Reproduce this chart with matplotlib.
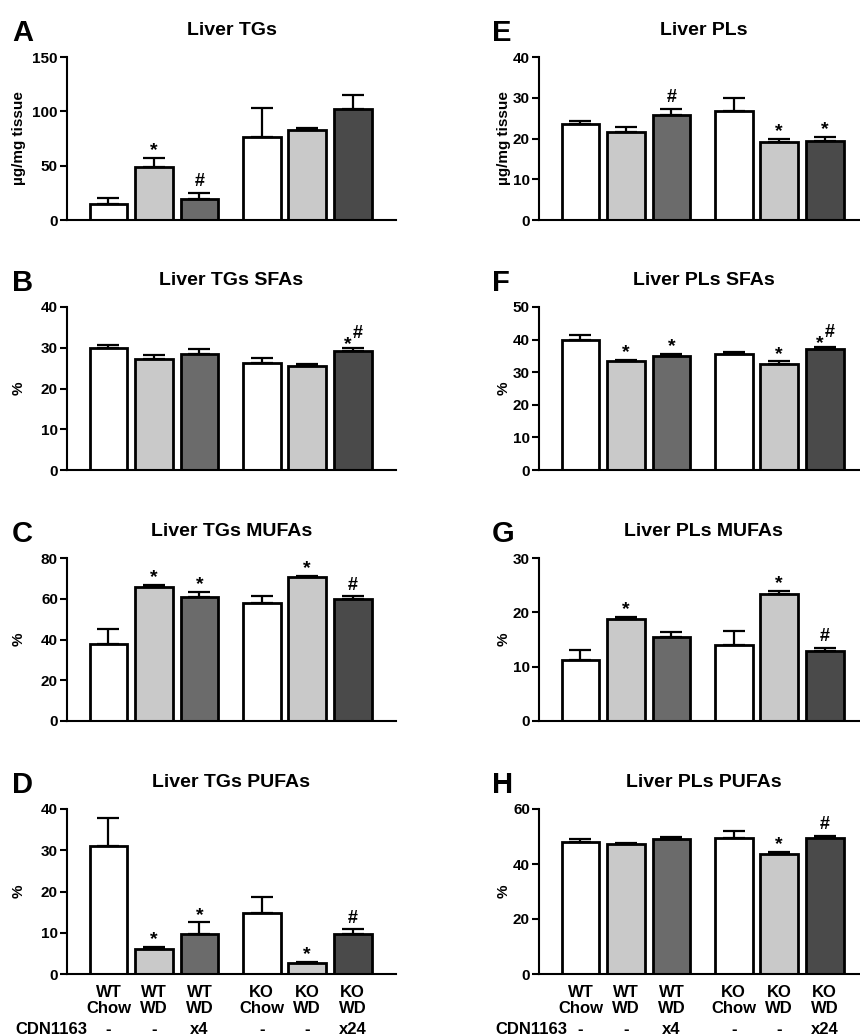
import matplotlib
matplotlib.use("Agg")
import matplotlib.pyplot as plt
import numpy as np

plt.rcParams['font.family'] = ['Liberation Sans', 'DejaVu Sans']
plt.rcParams['font.weight'] = 'bold'

grupos = ['WT\nChow', 'WT\nWD', 'WT\nWD', 'KO\nChow', 'KO\nWD', 'KO\nWD']
cdn1163 = ['-', '-', 'x4', '-', '-', 'x24']
cores = ['#ffffff', '#c9c9c9', '#6b6b6b', '#ffffff', '#c9c9c9', '#4a4a4a']

# painel A
tg_media = [14.7, 49.0, 19.3, 76.5, 82.6, 102.5]
tg_erro = [5.2, 8.5, 5.7, 26.5, 2.2, 12.3]
tg_sig = ['', '*', '#', '', '', '']
# painel B
tg_sfa_media = [30.0, 27.3, 28.5, 26.2, 25.5, 29.1]
tg_sfa_erro = [0.7, 0.9, 1.2, 1.3, 0.5, 0.9]
tg_sfa_sig = ['', '', '', '', '', '*#']
# painel C
tg_mufa_media = [37.6, 65.8, 60.7, 57.8, 70.7, 59.9]
tg_mufa_erro = [7.5, 1.1, 2.6, 3.4, 0.6, 1.3]
tg_mufa_sig = ['', '*', '*', '', '*', '#']
# painel D
tg_pufa_media = [31.1, 6.1, 9.8, 14.8, 2.7, 9.8]
tg_pufa_erro = [6.6, 0.4, 2.7, 3.9, 0.3, 1.0]
tg_pufa_sig = ['', '*', '*', '', '*', '#']
# painel E
pl_media = [23.5, 21.5, 25.8, 26.7, 19.1, 19.3]
pl_erro = [0.9, 1.3, 1.4, 3.2, 0.9, 1.1]
pl_sig = ['', '', '#', '', '*', '*']
# painel F
pl_sfa_media = [40.0, 33.3, 35.0, 35.6, 32.5, 37.0]
pl_sfa_erro = [1.5, 0.5, 0.6, 0.6, 0.8, 0.8]
pl_sfa_sig = ['', '*', '*', '', '*', '*#']
# painel G
pl_mufa_media = [11.2, 18.75, 15.4, 14.0, 23.3, 12.8]
pl_mufa_erro = [1.9, 0.45, 1.0, 2.5, 0.6, 0.6]
pl_mufa_sig = ['', '*', '', '', '*', '#']
# painel H
pl_pufa_media = [48.0, 47.1, 49.1, 49.4, 43.5, 49.3]
pl_pufa_erro = [1.2, 0.6, 0.8, 2.7, 1.0, 0.9]
pl_pufa_sig = ['', '', '', '', '*', '#']

paineis = [
    ('A', 'Liver TGs', 'µg/mg tissue', 150, 50, tg_media, tg_erro, tg_sig),
    ('B', 'Liver TGs SFAs', '%', 40, 10, tg_sfa_media, tg_sfa_erro, tg_sfa_sig),
    ('C', 'Liver TGs MUFAs', '%', 80, 20, tg_mufa_media, tg_mufa_erro, tg_mufa_sig),
    ('D', 'Liver TGs PUFAs', '%', 40, 10, tg_pufa_media, tg_pufa_erro, tg_pufa_sig),
    ('E', 'Liver PLs', 'µg/mg tissue', 40, 10, pl_media, pl_erro, pl_sig),
    ('F', 'Liver PLs SFAs', '%', 50, 10, pl_sfa_media, pl_sfa_erro, pl_sfa_sig),
    ('G', 'Liver PLs MUFAs', '%', 30, 10, pl_mufa_media, pl_mufa_erro, pl_mufa_sig),
    ('H', 'Liver PLs PUFAs', '%', 60, 20, pl_pufa_media, pl_pufa_erro, pl_pufa_sig),
]

W, H = 860, 1036
fig = plt.figure(figsize=(W / 100, H / 100), dpi=100)

x = np.array([0, 1, 2, 3.37, 4.37, 5.37])
linhas = [(57, 220), (307, 470), (558, 721), (809, 974)]
colunas = [67, 539]
largura = 329
letra_x = [12, 492]
label_x = [-0.125, -0.085]

for i, (letra, titulo, ylabel, ymax, passo, media, erro, sig) in enumerate(paineis):
    col = i // 4
    lin = i % 4
    topo, base = linhas[lin]
    ax = fig.add_axes([colunas[col] / W, 1 - base / H, largura / W, (base - topo) / H])

    ax.bar(x, media, width=0.83, color=cores, edgecolor='black', linewidth=2, zorder=2)
    ax.errorbar(x, media, yerr=[np.zeros(6), erro], fmt='none', ecolor='black',
                elinewidth=1.6, capsize=8, capthick=1.6, zorder=3)

    for xi, m, e, s in zip(x, media, erro, sig):
        if s == '*':
            ax.annotate('*', (xi, m + e), xytext=(0, -1), textcoords='offset points',
                        ha='center', va='bottom', fontsize=14, fontweight='bold')
        elif s == '#':
            ax.annotate('#', (xi, m + e), xytext=(0, 2), textcoords='offset points',
                        ha='center', va='bottom', fontsize=13, fontweight='bold')
        elif s == '*#':
            ax.annotate('*', (xi, m + e), xytext=(-3.5, -3.5), textcoords='offset points',
                        ha='center', va='bottom', fontsize=14, fontweight='bold')
            ax.annotate('#', (xi, m + e), xytext=(3.5, 4), textcoords='offset points',
                        ha='center', va='bottom', fontsize=13, fontweight='bold')

    ax.set_xlim(-0.91, 6.32)
    ax.set_ylim(0, ymax)
    ax.set_yticks(np.arange(0, ymax + 1, passo))
    ax.spines['top'].set_visible(False)
    ax.spines['right'].set_visible(False)
    ax.spines['left'].set_linewidth(1.5)
    ax.spines['bottom'].set_linewidth(1.5)
    ax.tick_params(axis='y', direction='out', length=5, width=1.5, pad=1.5, labelsize=11)
    ax.tick_params(axis='x', length=0)
    ax.set_ylabel(ylabel, fontsize=11, fontweight='bold')
    ax.yaxis.set_label_coords(label_x[col], 0.5)
    ax.set_title(titulo, fontsize=14, fontweight='bold', pad=16)

    fig.text(letra_x[col] / W, 1 - (topo - 16) / H, letra, fontsize=21,
             fontweight='bold', ha='left', va='baseline')

    if lin == 3:
        ax.set_xticks(x)
        ax.set_xticklabels(grupos, fontsize=12, fontweight='bold', linespacing=1.1)
        ax.tick_params(axis='x', pad=8)
        for xi, d in zip(x, cdn1163):
            ax.text(xi, -0.335, d, transform=ax.get_xaxis_transform(), ha='center',
                    va='center', fontsize=12, fontweight='bold')
        fig.text((letra_x[col] + 3) / W, 1 - 1029 / H, 'CDN1163', ha='left', va='center',
                 fontsize=12, fontweight='bold')
    else:
        ax.set_xticks([])

plt.savefig('out.png', dpi=100)
